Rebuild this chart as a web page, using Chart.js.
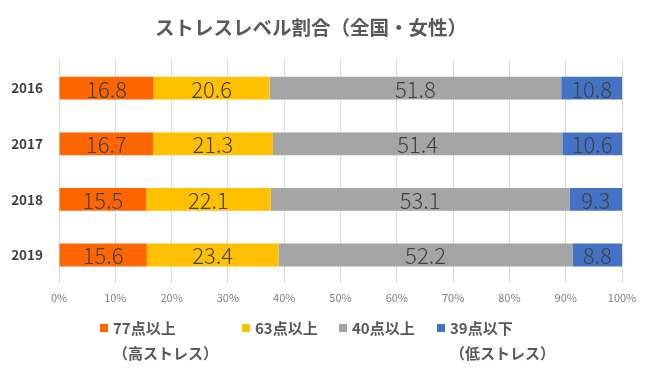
<!DOCTYPE html>
<html>
<head>
<meta charset="utf-8">
<script src="https://cdn.jsdelivr.net/npm/chart.js@4"></script>
<style>
  html, body { margin: 0; padding: 0; background: #fff; }
  #wrap { width: 650px; height: 369px; }
</style>
</head>
<body>
<div id="wrap"><canvas id="stressChart"></canvas></div>
<script>
// ストレスレベル割合（全国・女性） - 100% stacked horizontal bars

const years = ['2016', '2017', '2018', '2019'];
const seriesNames = ['77点以上', '63点以上', '40点以上', '39点以下'];
const legendNotes = ['（高ストレス）', '', '', '（低ストレス）'];
const colors = ['#FF6600', '#FFC000', '#A5A5A5', '#4472C4'];

const high77 = [16.8, 16.7, 15.5, 15.6];
const mid63 = [20.6, 21.3, 22.1, 23.4];
const mid40 = [51.8, 51.4, 53.1, 52.2];
const low39 = [10.8, 10.6, 9.3, 8.8];

const xTicks = [0, 10, 20, 30, 40, 50, 60, 70, 80, 90, 100];

const seriesValues = [high77, mid63, mid40, low39];
const JP = '"Noto Sans CJK JP", "Noto Sans", sans-serif';

// numbers written in the middle of each segment
const valueLabels = {
    id: 'valueLabels',
    afterDatasetsDraw(chart) {
        const ctx = chart.ctx;
        ctx.save();
        ctx.font = '300 22px ' + JP;
        ctx.fillStyle = '#404040';
        ctx.textAlign = 'center';
        ctx.textBaseline = 'middle';
        chart.data.datasets.forEach((ds, i) => {
            chart.getDatasetMeta(i).data.forEach((bar, j) => {
                const cx = (bar.x + bar.base) / 2;
                ctx.fillText(ds.data[j].toFixed(1), cx, bar.y + 1);
            });
        });
        ctx.restore();
    }
};

// legend drawn by hand, spacing like the original
const legendX = [100, 242, 339, 437];
const bottomLegend = {
    id: 'bottomLegend',
    afterDraw(chart) {
        const ctx = chart.ctx;
        ctx.save();
        ctx.font = 'bold 15px ' + JP;
        ctx.textBaseline = 'middle';
        ctx.textAlign = 'left';
        seriesNames.forEach((name, i) => {
            const x = legendX[i];
            ctx.fillStyle = colors[i];
            ctx.fillRect(x, 324, 8, 8);
            ctx.fillStyle = '#595959';
            ctx.fillText(name, x + 13, 328);
            if (legendNotes[i]) {
                ctx.fillText(legendNotes[i], x + 13, 353);
            }
        });
        ctx.restore();
    }
};

const ctx = document.getElementById('stressChart').getContext('2d');
const stressChart = new Chart(ctx, {
    type: 'bar',
    data: {
        labels: years,
        datasets: seriesNames.map((name, i) => ({
            label: name,
            data: seriesValues[i],
            backgroundColor: colors[i],
            borderWidth: 0,
            barPercentage: 0.41,
            categoryPercentage: 1
        }))
    },
    options: {
        indexAxis: 'y',
        responsive: true,
        maintainAspectRatio: false,
        animation: false,
        layout: {
            padding: { left: 0, right: 28, top: 0, bottom: 57 }
        },
        scales: {
            x: {
                stacked: true,
                min: 0,
                max: 100,
                afterBuildTicks(scale) {
                    scale.ticks = xTicks.map(v => ({ value: v }));
                },
                ticks: {
                    color: '#7f7f7f',
                    font: { family: JP, size: 11 },
                    padding: 8,
                    callback: v => v + '%'
                },
                grid: {
                    color: '#d9d9d9',
                    drawTicks: false
                },
                border: { display: false }
            },
            y: {
                stacked: true,
                afterFit(scale) {
                    scale.width = 59;
                },
                ticks: {
                    color: '#404040',
                    font: { family: JP, size: 13.5, weight: 'bold' },
                    padding: 16
                },
                grid: { display: false, drawTicks: false },
                border: { display: false }
            }
        },
        plugins: {
            title: {
                display: true,
                text: 'ストレスレベル割合（全国・女性）',
                color: '#595959',
                font: { family: JP, size: 19.5, weight: 'bold' },
                padding: { top: 16, bottom: 21 }
            },
            legend: { display: false },
            tooltip: { enabled: false }
        }
    },
    plugins: [valueLabels, bottomLegend]
});
</script>
</body>
</html>
